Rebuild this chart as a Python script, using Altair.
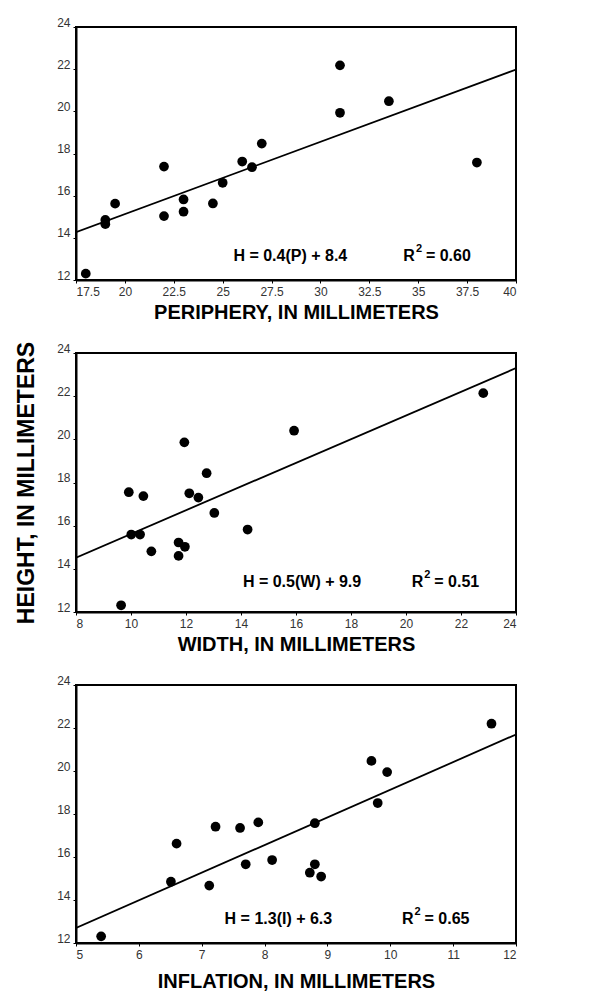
import altair as alt
import pandas as pd

# ---- data ----
# Panel 1: periphery
peri_x = [18.0, 19.0, 19.0, 19.5, 22.0, 22.0, 23.0, 23.0, 24.5, 25.0, 26.0, 26.5, 27.0, 31.0, 31.0, 33.5, 38.0]
peri_y = [12.3, 14.65, 14.85, 15.62, 17.38, 15.03, 15.82, 15.24, 15.63, 16.61, 17.62, 17.35, 18.47, 22.18, 19.93, 20.48, 17.57]
peri_line_x = [17.5, 40.0]
peri_line_y = [14.27, 21.98]
peri_ticks = [17.5, 18.75, 20, 21.25, 22.5, 23.75, 25, 26.25, 27.5, 28.75, 30, 31.25, 32.5, 33.75, 35, 36.25, 37.5, 38.75, 40]

# Panel 2: width
width_x = [9.64, 9.92, 10.01, 10.33, 10.45, 10.74, 11.73, 11.73, 11.96, 11.94, 12.12, 12.45, 12.75, 13.03, 14.24, 15.93, 22.81]
width_y = [12.31, 17.55, 15.59, 15.59, 17.37, 14.81, 15.22, 14.6, 15.02, 19.86, 17.5, 17.3, 18.43, 16.59, 15.82, 20.4, 22.14]
width_line_x = [8.0, 24.0]
width_line_y = [14.52, 23.3]
width_ticks = list(range(8, 25))

# Panel 3: inflation
infl_x = [5.40, 6.51, 6.60, 7.12, 7.22, 7.61, 7.70, 7.90, 8.12, 8.72, 8.80, 8.80, 8.90, 9.70, 9.80, 9.95, 11.61]
infl_y = [12.31, 14.85, 16.62, 14.67, 17.41, 17.35, 15.66, 17.61, 15.86, 15.27, 17.57, 15.66, 15.09, 20.47, 18.51, 19.95, 22.2]
infl_line_x = [5.0, 12.0]
infl_line_y = [12.7, 21.7]
infl_ticks = [5, 5.5, 6, 6.5, 7, 7.5, 8, 8.5, 9, 9.5, 10, 10.5, 11, 11.5, 12]

y_ticks = list(range(12, 25))

FONT = "Liberation Sans"


def panel(xs, ys, lx, ly, ticks, major, title, eq, eq_x, r2, r2_x, txt_y,
          height, title_pad, y_title=None):
    pts = pd.DataFrame({"x": xs, "y": ys})
    ln = pd.DataFrame({"x": lx, "y": ly})
    xdom = [ticks[0], ticks[-1]]
    xscale = alt.Scale(domain=xdom, nice=False, zero=False)
    yscale = alt.Scale(domain=[12, 24], nice=False, zero=False)
    xaxis = alt.Axis(values=ticks, format=".1~f",
                     labelExpr=f"abs(datum.value / {major} - round(datum.value / {major})) < 0.001 ? datum.label : ''",
                     labelOverlap=False, title=title, titlePadding=title_pad)
    if y_title:
        yaxis = alt.Axis(values=y_ticks, format="d", labelExpr="datum.value % 2 == 0 ? datum.label : ''",
                         labelOverlap=False, title=y_title, titlePadding=18,
                         titleFontSize=23)
    else:
        yaxis = alt.Axis(values=y_ticks, format="d", labelExpr="datum.value % 2 == 0 ? datum.label : ''",
                         labelOverlap=False, title=None)

    base_x = alt.X("x:Q", scale=xscale, axis=xaxis)
    base_y = alt.Y("y:Q", scale=yscale, axis=yaxis)

    line = alt.Chart(ln).mark_line(color="black", strokeWidth=1.8, clip=True).encode(
        x=base_x, y=base_y)
    dots = alt.Chart(pts).mark_circle(color="black", opacity=1, size=95).encode(
        x=alt.X("x:Q", scale=xscale), y=alt.Y("y:Q", scale=yscale))

    tdf = pd.DataFrame({"eq": [eq], "eqx": [eq_x], "r2": [r2], "r2x": [r2_x], "ty": [txt_y],
                        "r": ["R"], "sup": ["2"]})
    eq_t = alt.Chart(tdf).mark_text(font=FONT, fontWeight="bold", fontSize=16, align="center",
                                    baseline="middle", color="black").encode(
        x=alt.X("eqx:Q", scale=xscale), y=alt.Y("ty:Q", scale=yscale), text="eq:N")
    r_t = alt.Chart(tdf).mark_text(font=FONT, fontWeight="bold", fontSize=16, align="right",
                                   baseline="middle", color="black").encode(
        x=alt.X("r2x:Q", scale=xscale), y=alt.Y("ty:Q", scale=yscale), text="r:N")
    sup_t = alt.Chart(tdf).mark_text(font=FONT, fontWeight="bold", fontSize=11, align="left",
                                     baseline="middle", color="black", dx=1, dy=-7).encode(
        x=alt.X("r2x:Q", scale=xscale), y=alt.Y("ty:Q", scale=yscale), text="sup:N")
    r2_t = alt.Chart(tdf).mark_text(font=FONT, fontWeight="bold", fontSize=16, align="left",
                                    baseline="middle", color="black", dx=11).encode(
        x=alt.X("r2x:Q", scale=xscale), y=alt.Y("ty:Q", scale=yscale), text="r2:N")

    return alt.layer(line, dots, eq_t, r_t, sup_t, r2_t).properties(width=440, height=height)


p1 = panel(peri_x, peri_y, peri_line_x, peri_line_y, peri_ticks, 2.5,
           "PERIPHERY, IN MILLIMETERS", "H = 0.4(P) + 8.4", 28.46, "= 0.60", 34.83, 13.14, 253, 5)
p2 = panel(width_x, width_y, width_line_x, width_line_y, width_ticks, 2,
           "WIDTH, IN MILLIMETERS", "H = 0.5(W) + 9.9", 16.22, "= 0.51", 20.63, 13.39, 259, 5,
           y_title="HEIGHT, IN MILLIMETERS")
p3 = panel(infl_x, infl_y, infl_line_x, infl_line_y, infl_ticks, 1,
           "INFLATION, IN MILLIMETERS", "H = 1.3(I) + 6.3", 8.22, "= 0.65", 10.37, 13.12, 258, 11)

chart = alt.vconcat(p1, p2, p3, spacing=73, bounds="flush").properties(
    padding={"left": 6, "top": 7, "right": 5, "bottom": 5}
).configure_view(
    stroke="black", strokeWidth=2
).configure_axis(
    grid=False, labelFont=FONT, labelFontSize=12, labelColor="#333333",
    labelPadding=3, tickSize=3, tickColor="black", tickWidth=1,
    domainColor="black", domainWidth=2,
    titleFont=FONT, titleFontSize=20, titleFontWeight="bold", titleColor="black"
).configure_axisY(
    labelBaseline="alphabetic", labelOffset=-1
)

chart.save("out.html", embed_options={"renderer": "svg", "actions": False})
